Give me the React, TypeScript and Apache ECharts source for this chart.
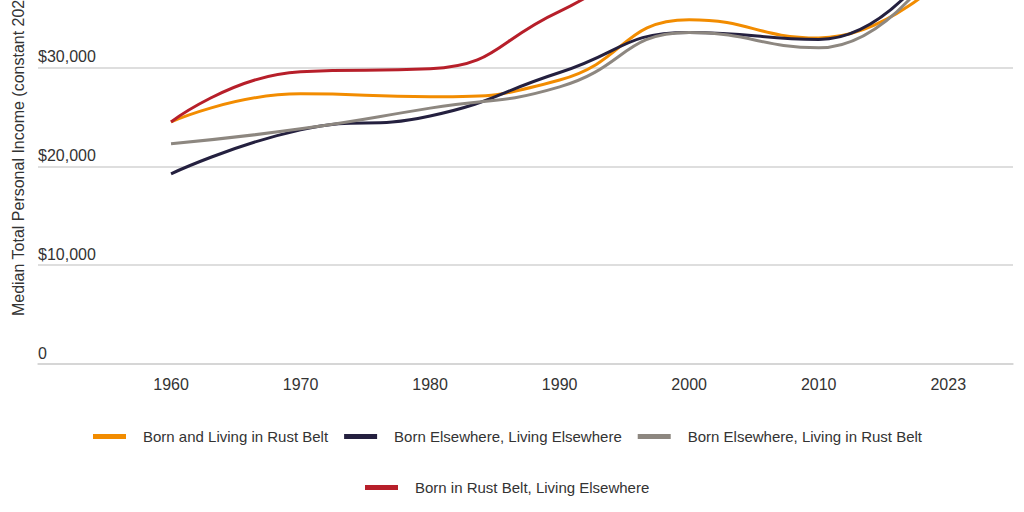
import { useEffect, useRef } from "react";
import * as echarts from "echarts";

const years = ["1960", "1970", "1980", "1990", "2000", "2010", "2023"];
const seriesNames = [
  "Born and Living in Rust Belt",
  "Born Elsewhere, Living Elsewhere",
  "Born Elsewhere, Living in Rust Belt",
  "Born in Rust Belt, Living Elsewhere",
];
const bornLivingRust = [24500, 27350, 27050, 28750, 34850, 33000, 39500];
const elsewhereElsewhere = [19250, 23700, 25100, 29500, 33550, 32850, 42500];
const elsewhereRust = [22300, 23800, 25900, 28050, 33550, 32000, 42000];
const rustElsewhere = [24500, 29580, 29880, 35700, 42000, 43000, 47500];
const colors = ["#F28C00", "#24203F", "#8D8780", "#B71F2A"];
const yTicks = [0, 10000, 20000, 30000, 40000, 50000];

const SHIFT = 130; // the top of the plot lies above the visible window

const App = () => {
  const chartRef = useRef<HTMLDivElement | null>(null);

  useEffect(() => {
    if (!chartRef.current) return;
    const chart = echarts.init(chartRef.current, undefined, { renderer: "svg" });
    const values = [bornLivingRust, elsewhereElsewhere, elsewhereRust, rustElsewhere];
    const font = "'Liberation Sans', Arial, sans-serif";

    const legendBase = {
      orient: "horizontal" as const,
      padding: 0,
      itemWidth: 33,
      itemHeight: 5,
      itemGap: 16,
      icon: "rect",
      textStyle: { fontFamily: font, fontSize: 15, color: "#333", padding: [0, 0, 0, 12] },
    };

    chart.setOption({
      animation: false,
      color: colors,
      grid: {
        left: 38,
        right: 11,
        top: 0,
        bottom: 642 - (364 + SHIFT),
        containLabel: false,
        outerBoundsMode: "none",
      },
      legend: [
        { ...legendBase, left: 93, top: SHIFT + 437 - 8, data: seriesNames.slice(0, 3) },
        { ...legendBase, left: 365, top: SHIFT + 488 - 8, data: seriesNames.slice(3) },
      ],
      xAxis: {
        type: "value",
        min: -1.027,
        max: 6.5,
        axisLine: { show: true, lineStyle: { color: "#d3d3d3", width: 1.5 } },
        axisTick: { show: false },
        splitLine: { show: false },
        axisLabel: {
          customValues: years.map((_, i) => i),
          formatter: (v: number) => years[Math.round(v)] ?? "",
          fontFamily: font,
          fontSize: 16,
          color: "#333",
          margin: 12,
        },
      },
      yAxis: {
        type: "value",
        min: yTicks[0],
        max: yTicks[yTicks.length - 1],
        interval: 10000,
        name: "Median Total Personal Income (constant 2023 dollars)",
        nameLocation: "middle",
        nameGap: 12,
        nameTextStyle: { fontFamily: font, fontSize: 16, color: "#333", padding: [0, 16, 0, 0] },
        axisLine: { show: false },
        axisTick: { show: false },
        splitLine: { lineStyle: { color: "#d3d3d3", width: 1.5 } },
        axisLabel: {
          inside: true,
          margin: 0,
          verticalAlign: "bottom",
          padding: [0, 0, 3, 0],
          fontFamily: font,
          fontSize: 16,
          color: "#333",
          formatter: (v: number) => (v === 0 ? "0" : "$" + v.toLocaleString("en-US")),
        },
      },
      series: seriesNames.map((name, k) => ({
        name,
        type: "line",
        smooth: 0.5,
        symbol: "none",
        lineStyle: { width: 3, color: colors[k] },
        data: values[k].map((v, i) => [i, v]),
      })),
    });

    return () => {
      chart.dispose();
    };
  }, []);

  return (
    <div style={{ position: "fixed", left: 0, top: 0, width: 1024, height: 512, overflow: "hidden", background: "#fff" }}>
      <div ref={chartRef} style={{ position: "absolute", left: 0, top: -SHIFT, width: 1024, height: 512 + SHIFT }} />
    </div>
  );
};

export default App;
